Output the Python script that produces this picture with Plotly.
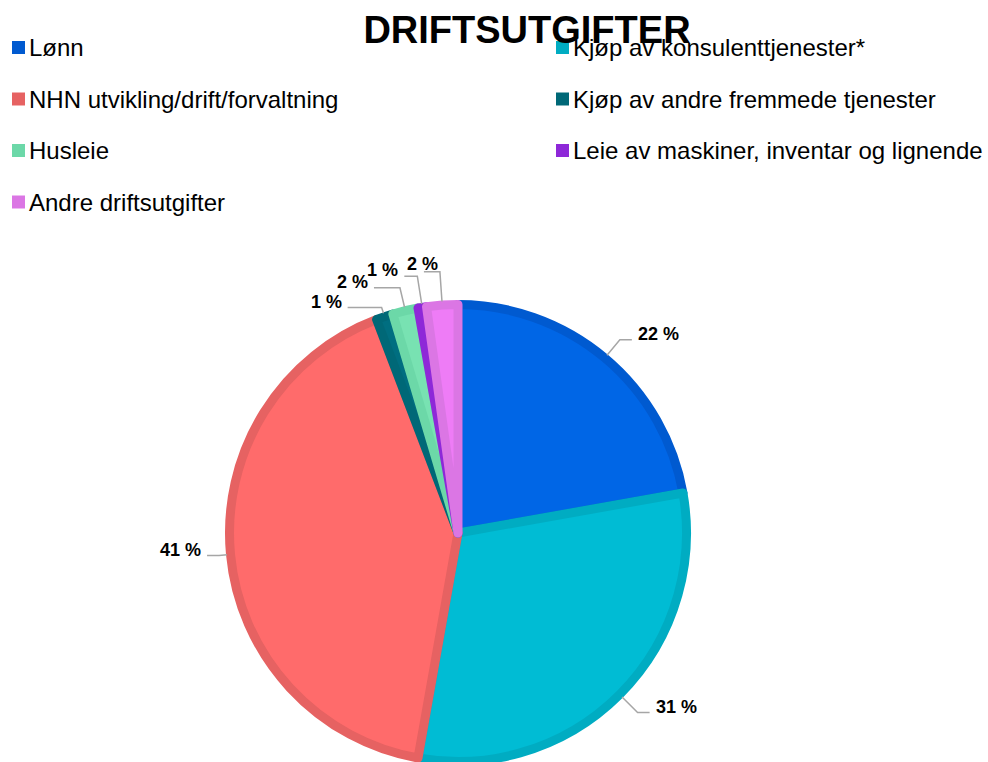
import math
import plotly.graph_objects as go

# ---------------- data ----------------
categories = [
    "Lønn",
    "Kjøp av konsulenttjenester*",
    "NHN utvikling/drift/forvaltning",
    "Kjøp av andre fremmede tjenester",
    "Husleie",
    "Leie av maskiner, inventar og lignende",
    "Andre driftsutgifter",
]
shares = [22.2, 30.6, 41.4, 1.2, 1.8, 0.6, 2.2]

title_text = "DRIFTSUTGIFTER"

# ---------------- styles ----------------
fill_colors = ["#0066E6", "#00BCD4", "#FF6B6B", "#006E80", "#78E2B2", "#9B2FE8", "#EE7CF6"]
edge_colors = ["#005AD0", "#00ACC2", "#E66262", "#006877", "#6CD8A8", "#8E28D8", "#DB76E4"]
leader_color = "#A6A6A6"
FONT = "Liberation Sans, Arial, sans-serif"

W, H = 988, 762
CX, CY = 458, 533          # pie centre (px)
R_VIS = 233                # visible radius (px)
EDGE_W = 9                 # slice edge width
R = R_VIS - EDGE_W / 2

# label placement tweaks (radial gap to elbow, horizontal leader length, text above leader)
label_pad = [19, 21, 7, 5, 19, 27, 29]
label_hlen = [12, 12, 12, 34, 26, 13, 16]
label_above = [False, False, False, False, False, False, True]


def px(x):
    return x / W


def py(y):
    return 1 - y / H


fig = go.Figure()
fig.add_trace(go.Pie(
    labels=categories,
    values=shares,
    sort=False,
    direction="clockwise",
    rotation=0,
    marker=dict(colors=fill_colors, line=dict(color=edge_colors, width=EDGE_W)),
    textinfo="none",
    hoverinfo="label+percent",
    showlegend=False,
    domain=dict(x=[px(CX - R), px(CX + R)], y=[py(CY + R), py(CY - R)]),
))

annotations = []
shapes = []

# ---------------- data labels with leader lines ----------------
total = sum(shares)
cum = 0.0
for i, v in enumerate(shares):
    mid = (cum + v / 2) / total * 2 * math.pi
    cum += v
    s, c = math.sin(mid), math.cos(mid)
    x0, y0 = CX + (R_VIS - 1) * s, CY - (R_VIS - 1) * c
    d = R_VIS + label_pad[i]
    x1, y1 = CX + d * s, CY - d * c
    side = 1 if s > 0 else -1
    x2 = x1 + side * label_hlen[i]
    shapes.append(dict(
        type="path", xref="paper", yref="paper",
        path=f"M {px(x0)},{py(y0)} L {px(x1)},{py(y1)} L {px(x2)},{py(y1)}",
        line=dict(color=leader_color, width=1.5),
    ))
    pct = f"{round(v / total * 100)} %"
    if label_above[i]:
        ax, ay, anc = x1, y1 - 8, "right"
    else:
        ax, ay, anc = x2 + side * 4, y1 - 6, ("left" if side > 0 else "right")
    annotations.append(dict(
        x=px(ax), y=py(ay), xref="paper", yref="paper",
        xanchor=anc, yanchor="middle", showarrow=False, text=pct,
        font=dict(family=FONT, size=18, color="#000000", weight="bold"),
    ))

# ---------------- legend (two columns) ----------------
col_x = [12, 556]
row_y0, row_step = 47.5, 51.5
sq = 13
for i, name in enumerate(categories):
    r, cidx = divmod(i, 2)
    lx = col_x[cidx]
    ly = row_y0 + r * row_step
    shapes.append(dict(
        type="rect", xref="paper", yref="paper",
        x0=px(lx), x1=px(lx + sq), y0=py(ly - sq / 2), y1=py(ly + sq / 2),
        fillcolor=edge_colors[i], line=dict(width=0),
    ))
    annotations.append(dict(
        x=px(lx + sq + 2), y=py(ly), xref="paper", yref="paper",
        xanchor="left", yanchor="middle", showarrow=False, text=name,
        font=dict(family=FONT, size=24, color="#000000"),
    ))

fig.update_layout(
    width=W, height=H,
    margin=dict(l=0, r=0, t=0, b=0),
    paper_bgcolor="white", plot_bgcolor="white",
    title=dict(
        text=title_text, x=px(527), xanchor="center", y=py(30), yanchor="middle",
        font=dict(family=FONT, size=38, color="#000000", weight="bold"),
    ),
    annotations=annotations,
    shapes=shapes,
)

fig.write_html(
    "out.html",
    config={"displayModeBar": False},
    post_script="document.body.style.margin='0';document.body.style.overflow='hidden';",
)
